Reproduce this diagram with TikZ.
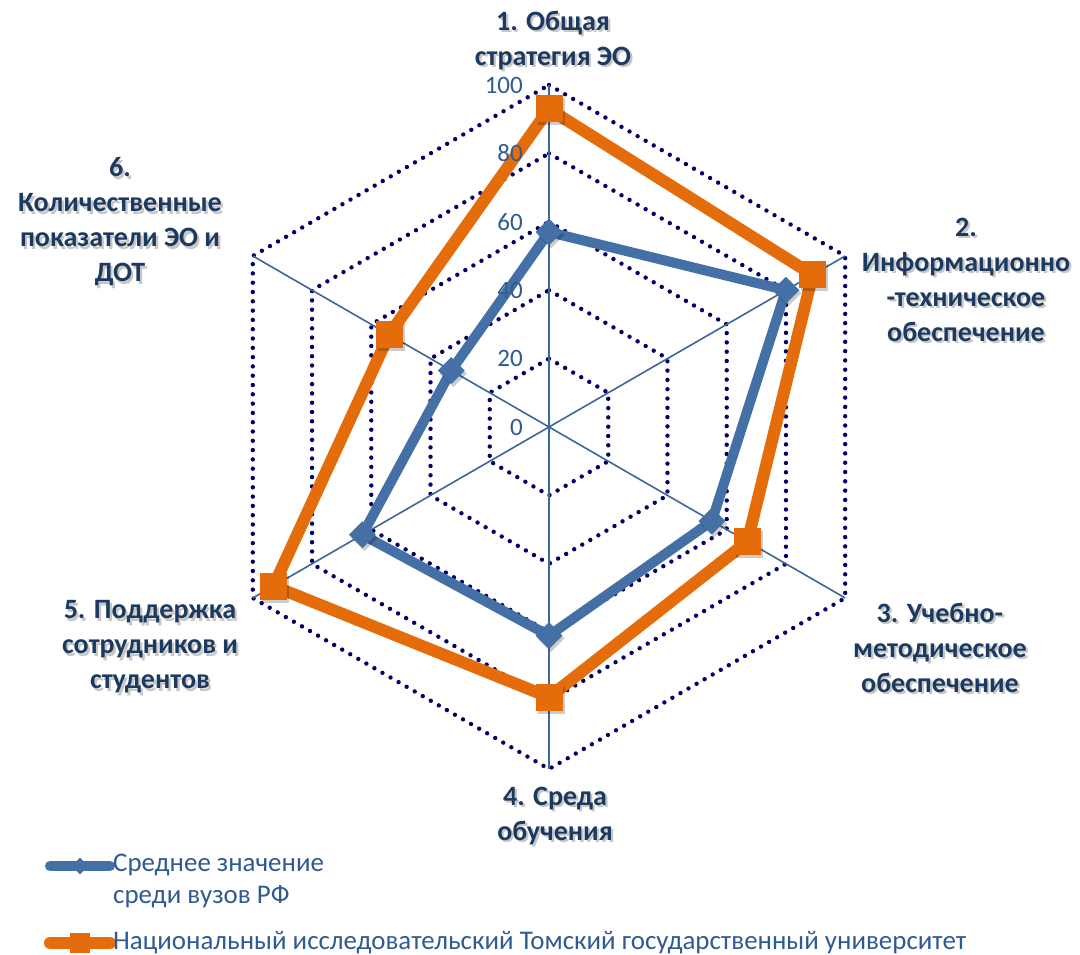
\documentclass[tikz,border=0pt]{standalone}
\usepackage{fontspec}
\setmainfont{Carlito}
\usetikzlibrary{shapes.geometric,calc}
\definecolor{navy}{HTML}{1C3A60}
\definecolor{ticktxt}{HTML}{2F5A92}
\definecolor{axisc}{HTML}{3D6699}
\definecolor{ringc}{HTML}{000066}
\definecolor{blueser}{HTML}{4470A6}
\definecolor{orangeser}{HTML}{E46C0A}
\tikzset{
  axisline/.style={draw=axisc, line width=1.6pt},
  ring/.style={draw=ringc, line width=4.4pt, line cap=round, dash pattern=on 0pt off 9.3pt},
  blueline/.style={draw=blueser, line width=10pt, line join=round},
  orangeline/.style={draw=orangeser, line width=12pt, line join=miter},
  bluemark/.style={diamond, fill=blueser, minimum size=27pt, inner sep=0pt},
  orangemark/.style={rectangle, fill=orangeser, minimum size=27pt, inner sep=0pt},
  ticklbl/.style={anchor=east, text=ticktxt, font=\fontsize{25}{30}\selectfont, inner sep=0pt},
  catlbl/.style={align=center, text=navy, font=\bfseries\fontsize{28}{35}\selectfont, inner sep=0pt},
  catshadow/.style={align=center, text=black, opacity=0.22, font=\bfseries\fontsize{28}{35}\selectfont, inner sep=0pt},
  legtxt/.style={anchor=west, text=ticktxt, font=\fontsize{26.9}{32}\selectfont, inner sep=0pt, align=left},
}
\newcommand\catlabel[3]{%
  \node[catshadow] at ($(#2)+(2.2,2.4)$) {#3};
  \node[catlbl] (#1) at (#2) {#3};}
\begin{document}
\begin{tikzpicture}[x=1pt,y=-1pt]
\useasboundingbox (0,0) rectangle (1080,955);
\fill[white] (0,0) rectangle (1080,955);
\coordinate (c) at (549,427);
\begin{scope}[shift={(549,427)}]
  % axes
  \foreach \k in {1,...,6} {
    \coordinate (ax\k) at ({-90+60*(\k-1)}:342);
  }
  % rings
  \foreach \v in {1,...,5} {
    \draw[ring] (-90:\v*68.4) -- (-30:\v*68.4) -- (30:\v*68.4) -- (90:\v*68.4) -- (150:\v*68.4) -- (210:\v*68.4) -- cycle;
  }
\end{scope}
\foreach \k in {1,...,6} { \draw[axisline] (c) -- (ax\k); }
\begin{scope}[shift={(549,427)}]
  % blue series
  \foreach \k/\val in {1/57,2/80,3/55,4/61,5/63,6/33} {
    \coordinate (b\k) at ({-90+60*(\k-1)}:{3.42*\val});
  }
  % orange series
  \foreach \k/\val in {1/93,2/89,3/67,4/79,5/93,6/54} {
    \coordinate (o\k) at ({-90+60*(\k-1)}:{3.42*\val});
  }
\end{scope}
\draw[blueline] (b1) -- (b2) -- (b3) -- (b4) -- (b5) -- (b6) -- cycle;
\foreach \k in {1,...,6} {
  \node[bluemark, fill=black, opacity=0.2] at ($(b\k)+(2,3)$) {};
  \node[bluemark] (bm\k) at (b\k) {};
}
\draw[orangeline] (o1) -- (o2) -- (o3) -- (o4) -- (o5) -- (o6) -- cycle;
\foreach \k in {1,...,6} {
  \node[orangemark, fill=black, opacity=0.2] at ($(o\k)+(2,3)$) {};
  \node[orangemark] (om\k) at (o\k) {};
}
% tick labels (on top)
\foreach \v/\t in {0/0,1/20,2/40,3/60,4/80,5/100} {
  \node[ticklbl] (tick\t) at (523,{427-\v*68.4}) {\t};
}
% category labels
\coordinate (p1) at (553,40.5);
\coordinate (p2) at (966,280);
\coordinate (p3) at (940,648);
\coordinate (p4) at (555,816);
\coordinate (p5) at (150,647);
\coordinate (p6) at (120,222);
\catlabel{l1}{p1}{1. Общая\\стратегия ЭО}
\catlabel{l2}{p2}{2.\\Информационно\\-техническое\\обеспечение}
\catlabel{l3}{p3}{3. Учебно-\\методическое\\обеспечение}
\catlabel{l4}{p4}{4. Среда\\обучения}
\catlabel{l5}{p5}{5. Поддержка\\сотрудников и\\студентов}
\catlabel{l6}{p6}{6.\\Количественные\\показатели ЭО и\\ДОТ}
% legend
\coordinate (lb1) at (50,866);
\coordinate (lb2) at (110,866);
\draw[draw=blueser, line width=10pt, line cap=round] (lb1) -- (lb2);
\node[diamond, fill=blueser, minimum size=17pt, inner sep=0pt] (lbm) at ($(lb1)!0.5!(lb2)$) {};
\node[legtxt] (lt1) at (113,881) {Среднее значение\\среди вузов РФ};
\coordinate (lo1) at (50,943);
\coordinate (lo2) at (110,943);
\draw[draw=orangeser, line width=12pt, line cap=round] (lo1) -- (lo2);
\node[rectangle, fill=orangeser, minimum size=20pt, inner sep=0pt] (lom) at ($(lo1)!0.5!(lo2)$) {};
\node[legtxt] (lt2) at (113,943) {Национальный исследовательский Томский государственный университет};
\end{tikzpicture}
\end{document}
